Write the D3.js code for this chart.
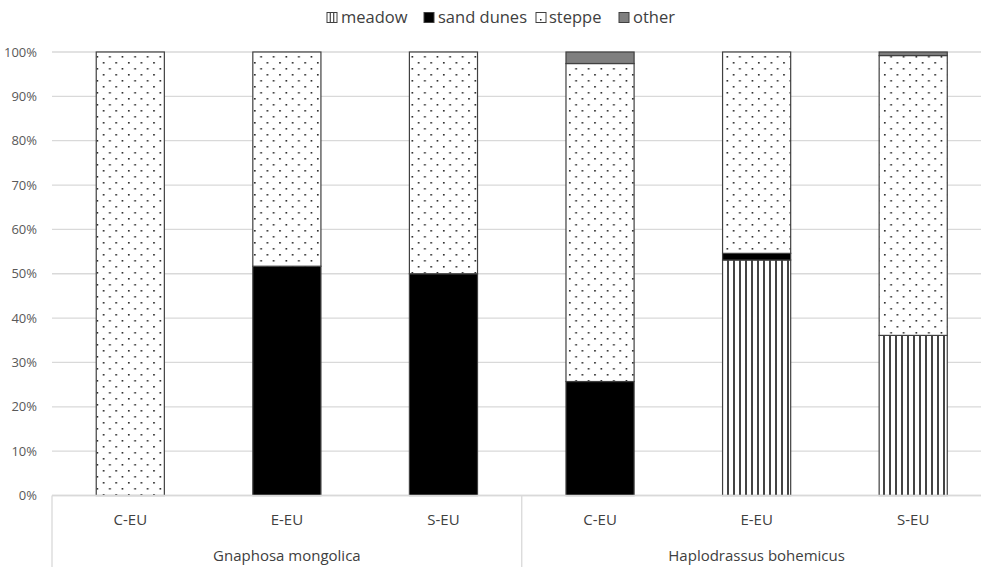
<!DOCTYPE html>
<html><head><meta charset="utf-8">
<script src="https://cdn.jsdelivr.net/npm/d3@7"></script>
<style>body{margin:0;background:#fff}svg{display:block}text{font-family:"Open Sans",sans-serif}</style>
</head><body><svg id="c" width="981" height="567"></svg>
<script>
const groups = ["Gnaphosa mongolica", "Haplodrassus bohemicus"];
const regions = ["C-EU", "E-EU", "S-EU"];
const seriesNames = ["meadow", "sand dunes", "steppe", "other"];
const meadow    = [0, 0, 0, 0, 53.1, 36.1];
const sandDunes = [0, 51.7, 50, 25.7, 1.5, 0];
const steppe    = [100, 48.3, 50, 71.7, 45.4, 63.1];
const other     = [0, 0, 0, 2.6, 0, 0.8];
const yTicks = [0,10,20,30,40,50,60,70,80,90,100];

(function(){
const svg = d3.select("#c");
const defs = svg.append("defs");
const pm = defs.append("pattern").attr("id","pMeadow").attr("patternUnits","userSpaceOnUse").attr("width",6).attr("height",6);
pm.append("rect").attr("width",6).attr("height",6).attr("fill","#fff");
pm.append("rect").attr("x",1).attr("width",2).attr("height",6).attr("fill","#444");
const ps = defs.append("pattern").attr("id","pSteppe").attr("patternUnits","userSpaceOnUse").attr("width",12.6).attr("height",12);
ps.append("rect").attr("width",12.6).attr("height",12).attr("fill","#fff");
ps.append("rect").attr("x",2).attr("y",2).attr("width",1.6).attr("height",1.6).attr("fill","#222");
ps.append("rect").attr("x",8.3).attr("y",8).attr("width",1.6).attr("height",1.6).attr("fill","#222");

const fills = {"meadow":"url(#pMeadow)","sand dunes":"#000","steppe":"url(#pSteppe)","other":"#7f7f7f"};
const cats = [];
groups.forEach((g,gi)=>regions.forEach((r,ri)=>cats.push({g,r,i:gi*3+ri})));
const data = cats.map((c,i)=>({id:i, "meadow":meadow[i], "sand dunes":sandDunes[i], "steppe":steppe[i], "other":other[i]}));

const pl=52, pr=991.5, pt=52, pb=495.5;
const x = d3.scaleBand().domain(d3.range(cats.length)).range([pl,pr]).padding(0);
const y = d3.scaleLinear().domain([0,100]).range([pb,pt]);
const bw = x.bandwidth()*0.435;

svg.append("g").selectAll("line").data(yTicks).join("line")
  .attr("x1",pl).attr("x2",pr).attr("y1",d=>y(d)).attr("y2",d=>y(d))
  .attr("stroke","#d9d9d9").attr("stroke-width",1.3);

const yAxis = d3.axisLeft(y).tickValues(yTicks).tickFormat(d=>d+"%").tickSize(0).tickPadding(15);
const ya = svg.append("g").attr("transform",`translate(${pl},0)`).call(yAxis);
ya.select(".domain").remove();
ya.selectAll("text").attr("font-size",13).attr("fill","#595959").style("font-family","'Open Sans',sans-serif");

const stack = d3.stack().keys(seriesNames)(data);
svg.append("g").selectAll("g").data(stack).join("g")
  .attr("fill",d=>fills[d.key])
  .selectAll("rect").data(d=>d.filter(s=>s[1]-s[0]>0)).join("rect")
  .attr("x",d=>x(d.data.id)+(x.bandwidth()-bw)/2)
  .attr("width",bw)
  .attr("y",d=>y(d[1]))
  .attr("height",d=>y(d[0])-y(d[1]))
  .attr("stroke","#404040").attr("stroke-width",1.2);

svg.append("line").attr("x1",pl).attr("x2",pr).attr("y1",pb).attr("y2",pb).attr("stroke","#d9d9d9").attr("stroke-width",1.3);
[0,3].forEach(i=>{
  svg.append("line").attr("x1",x(i)).attr("x2",x(i)).attr("y1",pb).attr("y2",567).attr("stroke","#d9d9d9").attr("stroke-width",1.3);
});
svg.append("g").selectAll("text").data(cats).join("text")
  .attr("x",d=>x(d.i)+x.bandwidth()/2).attr("y",524.5).attr("text-anchor","middle")
  .attr("font-size",15).attr("fill","#404040").text(d=>d.r);
svg.append("g").selectAll("text").data(groups).join("text")
  .attr("x",(d,i)=>(x(i*3)+x(i*3+2)+x.bandwidth())/2).attr("y",560.5).attr("text-anchor","middle")
  .attr("font-size",15).attr("fill","#404040").text(d=>d);

const lg = svg.append("g");
const legSw = [327, 424, 536, 619];
const legTx = [341, 438, 549, 633];
const legFill = {"meadow":"#fff","sand dunes":"#000","steppe":"#fff","other":"#7f7f7f"};
seriesNames.forEach((s,i)=>{
  lg.append("rect").attr("x",legSw[i]).attr("y",12.5).attr("width",10).attr("height",10).attr("fill",legFill[s]).attr("stroke","#404040").attr("stroke-width",1);
  if(s==="meadow") [3.3,6.7].forEach(dx=>lg.append("line").attr("x1",legSw[i]+dx).attr("x2",legSw[i]+dx).attr("y1",12.5).attr("y2",22.5).attr("stroke","#444").attr("stroke-width",1.2));
  if(s==="steppe") lg.append("rect").attr("x",legSw[i]+4).attr("y",19).attr("width",1.5).attr("height",1.5).attr("fill","#222");
  lg.append("text").attr("x",legTx[i]).attr("y",23).attr("font-size",16.5).attr("fill","#404040").text(s);
});
})();
</script></body></html>
